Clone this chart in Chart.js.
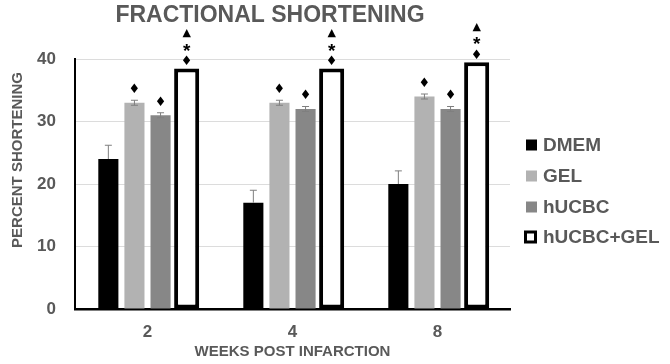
<!DOCTYPE html>
<html>
<head>
<meta charset="utf-8">
<script src="https://cdn.jsdelivr.net/npm/chart.js@4"></script>
<style>
  html, body { margin: 0; padding: 0; background: #fff; }
  #wrap { width: 670px; height: 364px; position: relative; }
</style>
</head>
<body>
<div id="wrap"><canvas id="c" width="670" height="364"></canvas></div>
<script>
// ---- data ----
const categories = ['2', '4', '8'];
const seriesNames = ['DMEM', 'GEL', 'hUCBC', 'hUCBC+GEL'];
const dmemValues = [24, 17, 20];
const gelValues = [33, 33, 34];
const hucbcValues = [31, 32, 32];
const hucbcGelValues = [38.5, 38.5, 39.5];
const dmemErrors = [2.2, 2.0, 2.1];
const gelErrors = [0.4, 0.4, 0.4];
const hucbcErrors = [0.4, 0.4, 0.4];
const hucbcGelErrors = [0, 0, 0];
const gelMarks = [['♦'], ['♦'], ['♦']];
const hucbcMarks = [['♦'], ['♦'], ['♦']];
const hucbcGelMarks = [['♦', '*', '▲'], ['♦', '*', '▲'], ['♦', '*', '▲']];
const yTicks = [0, 10, 20, 30, 40];
const titleText = 'FRACTIONAL SHORTENING';
const yTitleText = 'PERCENT SHORTENING';
const xTitleText = 'WEEKS POST INFARCTION';

const FONT = "'Liberation Sans', Arial, sans-serif";
const TEXT = '#595959';

const errorBarPlugin = {
  id: 'errorBars',
  afterDatasetsDraw(chart) {
    const ctx = chart.ctx;
    const y = chart.scales.y;
    chart.data.datasets.forEach((ds, i) => {
      const meta = chart.getDatasetMeta(i);
      if (!ds.errors) return;
      meta.data.forEach((bar, j) => {
        const v = ds.data[j], e = ds.errors[j];
        if (!e) return;
        const top = y.getPixelForValue(v + e);
        const bot = ds.errorUpOnly ? y.getPixelForValue(v) : y.getPixelForValue(v - e);
        ctx.save();
        ctx.strokeStyle = '#7f7f7f';
        ctx.lineWidth = 1;
        ctx.beginPath();
        ctx.moveTo(bar.x, top); ctx.lineTo(bar.x, bot);
        ctx.moveTo(bar.x - 3.5, top); ctx.lineTo(bar.x + 3.5, top);
        if (!ds.errorUpOnly) { ctx.moveTo(bar.x - 3.5, bot); ctx.lineTo(bar.x + 3.5, bot); }
        ctx.stroke();
        ctx.restore();
      });
    });
  }
};

const markerPlugin = {
  id: 'markers',
  afterDatasetsDraw(chart) {
    const ctx = chart.ctx;
    const y = chart.scales.y;
    chart.data.datasets.forEach((ds, i) => {
      if (!ds.marks) return;
      const meta = chart.getDatasetMeta(i);
      meta.data.forEach((bar, j) => {
        const stack = ds.marks[j];
        const base = y.getPixelForValue(ds.data[j] + (ds.errors ? ds.errors[j] : 0));
        const offsets = stack.length === 1 ? [10.5] : [7, 20, 35];
        stack.forEach((m, k) => {
          ctx.save();
          ctx.fillStyle = '#000';
          ctx.textAlign = 'center';
          ctx.textBaseline = 'middle';
          if (m === '*') {
            ctx.font = "bold 19px " + FONT;
            ctx.fillText(m, bar.x, base - offsets[k] + 3);
          } else if (m === '▲') {
            ctx.font = "11px 'DejaVu Sans'";
            ctx.fillText(m, bar.x, base - offsets[k]);
          } else {
            ctx.font = "13px 'DejaVu Sans'";
            ctx.fillText(m, bar.x, base - offsets[k]);
          }
          ctx.restore();
        });
      });
    });
  }
};

const textPlugin = {
  id: 'texts',
  afterDraw(chart) {
    const ctx = chart.ctx;
    ctx.save();
    ctx.fillStyle = TEXT;
    ctx.textAlign = 'center';
    ctx.textBaseline = 'middle';
    ctx.font = "bold 23px " + FONT;
    ctx.fillText(titleText, 270, 16);
    ctx.translate(18, 160);
    ctx.rotate(-Math.PI / 2);
    ctx.font = "bold 15px " + FONT;
    ctx.fillText(yTitleText, 0, 0);
    ctx.restore();

    // legend
    const rows = [145, 176, 207, 237];
    chart.data.datasets.forEach((ds, i) => {
      ctx.save();
      const cy = rows[i];
      if (ds.borderWidth && ds.backgroundColor === '#ffffff') {
        ctx.fillStyle = '#000';
        ctx.fillRect(524, cy - 6.5, 13, 13);
        ctx.fillStyle = '#fff';
        ctx.fillRect(527, cy - 3.5, 7, 7);
      } else {
        ctx.fillStyle = ds.backgroundColor;
        ctx.fillRect(526, cy - 5.5, 11, 11);
      }
      ctx.fillStyle = TEXT;
      ctx.font = "bold 19px " + FONT;
      ctx.textAlign = 'left';
      ctx.textBaseline = 'middle';
      ctx.fillText(ds.label, 543, cy + 1);
      ctx.restore();
    });
  }
};

new Chart(document.getElementById('c'), {
  type: 'bar',
  data: {
    labels: categories,
    datasets: [
      { label: seriesNames[0], data: dmemValues, errors: dmemErrors, errorUpOnly: true,
        backgroundColor: '#000000', barPercentage: 0.77 },
      { label: seriesNames[1], data: gelValues, errors: gelErrors, marks: gelMarks,
        backgroundColor: '#b2b2b2', barPercentage: 0.77 },
      { label: seriesNames[2], data: hucbcValues, errors: hucbcErrors, marks: hucbcMarks,
        backgroundColor: '#878787', barPercentage: 0.77 },
      { label: seriesNames[3], data: hucbcGelValues, errors: hucbcGelErrors, marks: hucbcGelMarks,
        backgroundColor: '#ffffff', borderColor: '#000000', borderWidth: 4,
        borderSkipped: false, barPercentage: 0.96 }
    ]
  },
  options: {
    responsive: false,
    animation: false,
    categoryPercentage: 0.72,
    layout: { padding: { top: 59, right: 160, left: 0, bottom: 0 } },
    plugins: { legend: { display: false }, title: { display: false }, tooltip: { enabled: false } },
    scales: {
      x: {
        afterFit(scale) { scale.height = 55; },
        grid: { display: false, drawTicks: false },
        border: { display: true, color: '#000', width: 2.5 },
        ticks: { color: TEXT, font: { family: FONT, size: 17, weight: 'bold' }, padding: 13 },
        title: { display: true, text: xTitleText, color: TEXT,
                 font: { family: FONT, size: 15, weight: 'bold' }, padding: { top: 1, bottom: 3 } }
      },
      y: {
        min: 0, max: 40,
        afterBuildTicks(scale) { scale.ticks = yTicks.map(v => ({ value: v })); },
        afterFit(scale) { scale.width = 75; },
        grid: { color: '#dcdcdc', lineWidth: 1, drawTicks: false },
        border: { display: true, color: '#000', width: 2 },
        ticks: { color: TEXT, font: { family: FONT, size: 17, weight: 'bold' }, padding: 19 }
      }
    }
  },
  plugins: [errorBarPlugin, markerPlugin, textPlugin]
});
</script>
</body>
</html>
